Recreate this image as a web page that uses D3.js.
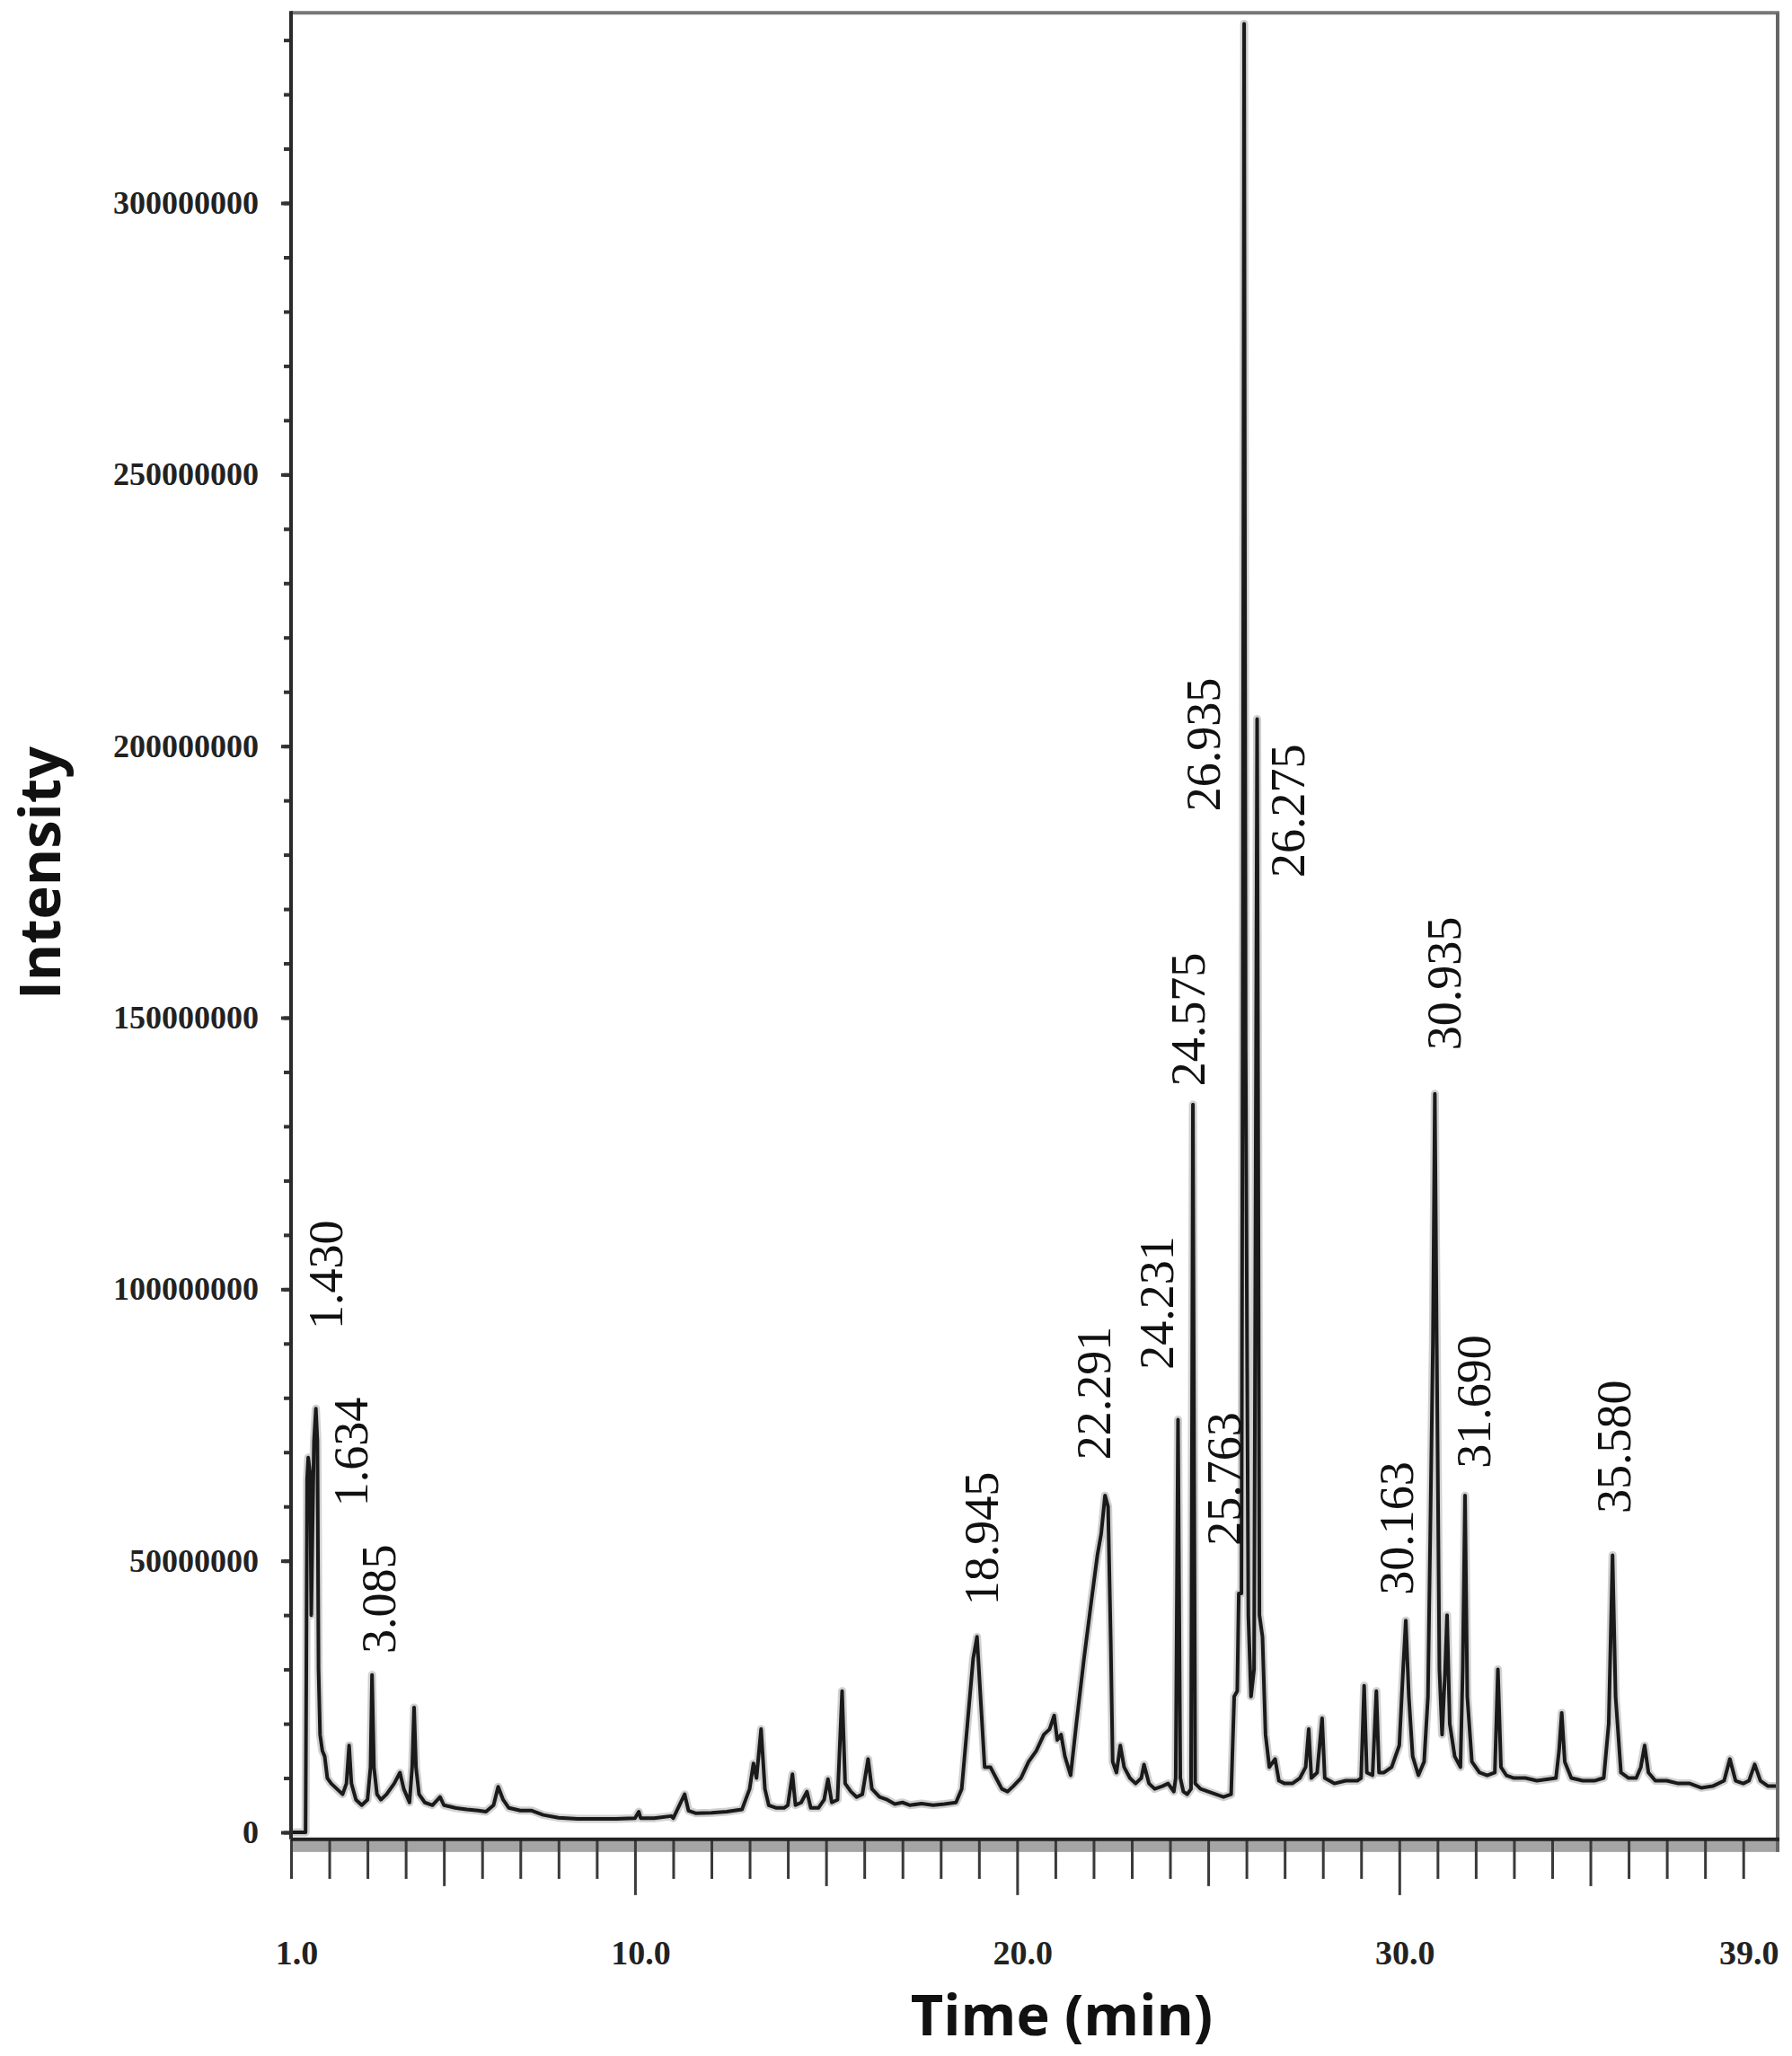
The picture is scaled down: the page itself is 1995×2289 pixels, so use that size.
<!DOCTYPE html>
<html>
<head>
<meta charset="utf-8">
<script src="https://cdn.jsdelivr.net/npm/d3@7/dist/d3.min.js"></script>
<style>
html,body{margin:0;padding:0;background:#fff;}
svg{display:block;}
</style>
</head>
<body>
<svg id="chart" width="1995" height="2289"></svg>
<script>
// ---------- DATA ----------
// retention time (min) of each trace point
const traceTime = [
 1.00,1.38,1.40,1.42,1.45,1.50,1.53,1.56,1.60,1.65,1.69,1.72,1.76,1.82,1.88,1.95,2.05,2.20,2.35,2.45,
 2.52,2.58,2.70,2.85,3.00,3.08,3.12,3.17,3.25,3.35,3.50,3.70,3.85,3.95,4.10,4.17,4.22,4.27,4.35,4.50,
 4.70,4.90,5.00,5.30,5.60,5.90,6.10,6.30,6.42,6.55,6.70,7.00,7.30,7.60,8.00,8.50,9.00,9.50,10.00,10.10,
 10.15,10.50,10.95,11.00,11.30,11.40,11.60,12.00,12.40,12.80,13.00,13.10,13.18,13.30,13.40,13.50,13.70,13.90,14.00,14.12,
 14.20,14.35,14.50,14.60,14.80,14.95,15.05,15.15,15.30,15.42,15.50,15.65,15.80,15.95,16.10,16.20,16.40,16.60,16.80,17.00,
 17.20,17.50,17.80,18.10,18.40,18.55,18.70,18.85,18.95,19.05,19.15,19.30,19.45,19.60,19.75,19.90,20.10,20.30,20.50,20.70,
 20.85,20.97,21.05,21.15,21.25,21.40,21.55,21.75,21.95,22.10,22.20,22.30,22.38,22.45,22.50,22.60,22.70,22.80,22.95,23.10,
 23.25,23.32,23.45,23.60,23.80,23.95,24.10,24.15,24.21,24.27,24.35,24.45,24.55,24.60,24.66,24.80,25.00,25.20,25.40,25.60,
 25.68,25.76,25.80,25.87,25.90,25.94,25.98,26.05,26.12,26.20,26.28,26.34,26.42,26.50,26.60,26.75,26.85,27.00,27.20,27.40,
 27.55,27.63,27.70,27.85,27.98,28.05,28.30,28.60,28.90,29.00,29.08,29.15,29.30,29.40,29.47,29.60,29.80,30.00,30.10,30.17,
 30.25,30.35,30.50,30.65,30.75,30.82,30.88,30.93,30.98,31.05,31.12,31.20,31.25,31.32,31.45,31.60,31.66,31.72,31.78,31.90,
 32.10,32.30,32.50,32.58,32.66,32.80,33.00,33.30,33.60,33.90,34.10,34.18,34.25,34.33,34.50,34.80,35.10,35.35,35.48,35.58,
 35.66,35.80,36.00,36.20,36.32,36.42,36.52,36.70,37.00,37.30,37.60,37.90,38.20,38.50,38.65,38.80,39.00,39.15,39.30,39.45,
 39.65,39.90
];
// intensity of each trace point (millions of counts)
const traceIntensityM = [
 0,0,30,65,69,66,40,55,72,78,72,30,18,15,14,10,9,8,7,9,
 16,9,6,5,6,12,29,12,7,6,7,9,11,8,5.5,12,23,12,7,5.5,
 5,6.5,5,4.5,4.2,4,3.8,5,8.4,6,4.5,4,4,3.2,2.7,2.5,2.5,2.5,2.6,3.8,
 2.6,2.6,3,2.6,7,4,3.5,3.6,3.8,4.2,8,12.7,10,19,8,5,4.5,4.5,5,10.7,
 5,5.5,7.5,4.5,4.5,6,9.8,5.5,6,26,9,7.5,6.5,7,13.5,8,6.5,6,5.2,5.5,
 5,5.3,5,5.2,5.5,8,20,32,36,24,12,12,10,8,7.5,8.5,10,13,15,18,
 19,21.5,17,18,14,10.5,20,32,43,51,55,62,60,35,13,11,16,12,10,9,
 10,12.5,9,8,8.5,9,7.5,10,76,10,7.5,7,8,134,9,8,7.5,7,6.5,7,
 25,26,44,44,145,333,145,40,25,30,205,40,36,18,12,13.5,9.5,9,9,10,
 12,19,10,11,21,10,9,9.5,9.5,10,27,11,10.5,26,11,11,12,16,30,39,
 25,14,10.5,13,25,60,90,136,90,30,18,30,40,20,14,12,30,62,25,13,
 11,10.5,11,30,12,10.5,10,10,9.5,9.8,10,15,22,13,10,9.5,9.5,10,20,51,
 25,11,10,10,12,16,11,9.5,9.5,9,9,8.2,8.5,9.5,13.5,9.5,9,9.5,12.5,9.5,
 8.5,8.5
];
// peak annotations
const peakLabels    = ["1.430","1.634","3.085","18.945","22.291","24.231","24.575","25.763","26.935","26.275","30.163","30.935","31.690","35.580"];
// label anchor (start of the vertical text) in data units
const peakLabelTime = [2.34, 3.00, 3.73, 19.50, 22.44, 24.08, 24.90, 25.84, 25.30, 27.51, 30.36, 31.60, 32.38, 36.05];
const peakLabelIntM = [92.6, 60.0, 32.9, 41.8, 68.6, 85.2, 137.4, 52.8, 188.0, 175.8, 43.7, 144.0, 67.0, 58.7];
// axis ticks
const yMajorTicks = [0, 50000000, 100000000, 150000000, 200000000, 250000000, 300000000];
const xLabelTicks = [1, 10, 20, 30, 39];
const xAxisTitle = "Time (min)";
const yAxisTitle = "Intensity";

// ---------- LAYOUT ----------
const svg = d3.select("#chart");
const plotLeft = 324, plotRight = 1979;
const x = d3.scaleLinear().domain([1, 39.9]).range([plotLeft, plotRight]);
const y = d3.scaleLinear().domain([0, 300e6]).range([2040, 226]);
const yTopVal = 335e6, yBotVal = -1.3e6;
const plotTop = y(yTopVal), plotBottom = y(yBotVal);

const serif = "'Liberation Serif','Times New Roman',serif";
const sans = "'Open Sans','Noto Sans',sans-serif";

// clip
svg.append("clipPath").attr("id","clip").append("rect")
  .attr("x", plotLeft).attr("y", plotTop).attr("width", plotRight-plotLeft).attr("height", plotBottom-plotTop);

// gray shadow band under the x axis
svg.append("rect").attr("x", plotLeft).attr("y", plotBottom+1).attr("width", plotRight-plotLeft+2).attr("height", 13)
  .attr("fill", "#8f8f8f").attr("opacity", 0.8);

// trace
const pts = traceTime.map((t,i)=>[t, traceIntensityM[i]*1e6]);
const line = d3.line().x(d=>x(d[0])).y(d=>y(d[1]));
const g = svg.append("g").attr("clip-path","url(#clip)");
g.append("path").datum(pts).attr("d", line)
  .attr("fill","none").attr("stroke","#7a7a7a").attr("stroke-width",9).attr("opacity",0.35).attr("stroke-linejoin","round");
g.append("path").datum(pts).attr("d", line)
  .attr("fill","none").attr("stroke","#1a1a1a").attr("stroke-width",4).attr("stroke-linejoin","round");

// plot box: top & right gray, left & bottom dark
svg.append("line").attr("x1",plotLeft).attr("x2",plotRight+2).attr("y1",plotTop).attr("y2",plotTop)
  .attr("stroke","#777").attr("stroke-width",4);
svg.append("line").attr("x1",plotRight).attr("x2",plotRight).attr("y1",plotTop).attr("y2",plotBottom+14)
  .attr("stroke","#666").attr("stroke-width",4);

// y axis
const yMinor = d3.range(0, 331e6, 10e6);
const yAxMinor = svg.append("g").attr("transform",`translate(${plotLeft},0)`)
  .call(d3.axisLeft(y).tickValues(yMinor).tickSize(8).tickFormat(""));
const yAx = svg.append("g").attr("transform",`translate(${plotLeft},0)`)
  .call(d3.axisLeft(y).tickValues(yMajorTicks).tickSize(11).tickPadding(25).tickFormat(d3.format("d")));
[yAxMinor, yAx].forEach(a=>{
  a.select(".domain").remove();
  a.selectAll(".tick line").attr("stroke","#333").attr("stroke-width",4);
});
yAx.selectAll(".tick text").attr("font-family", serif).attr("font-weight","bold").attr("font-size",36).attr("fill","#222");
svg.append("line").attr("x1",plotLeft).attr("x2",plotLeft).attr("y1",plotTop-2).attr("y2",plotBottom)
  .attr("stroke","#2a2a2a").attr("stroke-width",4);

// x axis
const xMinorT = d3.range(1, 40).filter(t=>t%5!==0);
const xMidT = d3.range(5, 40, 5).filter(t=>t%10!==0);
const xMajT = [10, 20, 30];
[[xMinorT,44],[xMidT,52],[xMajT,62]].forEach(([tv,sz])=>{
  const a = svg.append("g").attr("transform",`translate(0,${plotBottom})`)
    .call(d3.axisBottom(x).tickValues(tv).tickSize(sz).tickFormat(""));
  a.select(".domain").remove();
  a.selectAll(".tick line").attr("stroke","#3a3a3a").attr("stroke-width",3);
});
const xLab = svg.append("g").attr("transform",`translate(0,${plotBottom})`)
  .call(d3.axisBottom(x).tickValues(xLabelTicks).tickSize(0).tickPadding(112).tickFormat(d3.format(".1f")));
xLab.select(".domain").remove();
xLab.selectAll(".tick text").attr("font-family", serif).attr("font-weight","bold").attr("font-size",38)
  .attr("fill","#222").attr("dx", 6);
svg.append("line").attr("x1",plotLeft).attr("x2",plotRight+2).attr("y1",plotBottom).attr("y2",plotBottom)
  .attr("stroke","#222").attr("stroke-width",4);

// peak labels
svg.append("g").selectAll("text").data(peakLabels).join("text")
  .attr("transform",(d,i)=>`translate(${x(peakLabelTime[i])},${y(peakLabelIntM[i]*1e6)}) rotate(-90)`)
  .attr("font-family", serif).attr("font-size",54).attr("fill","#111")
  .text(d=>d);

// axis titles
svg.append("text").attr("x", 1182).attr("y", 2266).attr("text-anchor","middle")
  .attr("font-family", sans).attr("font-weight",700).attr("font-size",63).attr("fill","#111").text(xAxisTitle);
svg.append("text").attr("transform","translate(67,972) rotate(-90)").attr("text-anchor","middle")
  .attr("font-family", sans).attr("font-weight",700).attr("font-size",63).attr("fill","#111").text(yAxisTitle);
</script>
</body>
</html>
